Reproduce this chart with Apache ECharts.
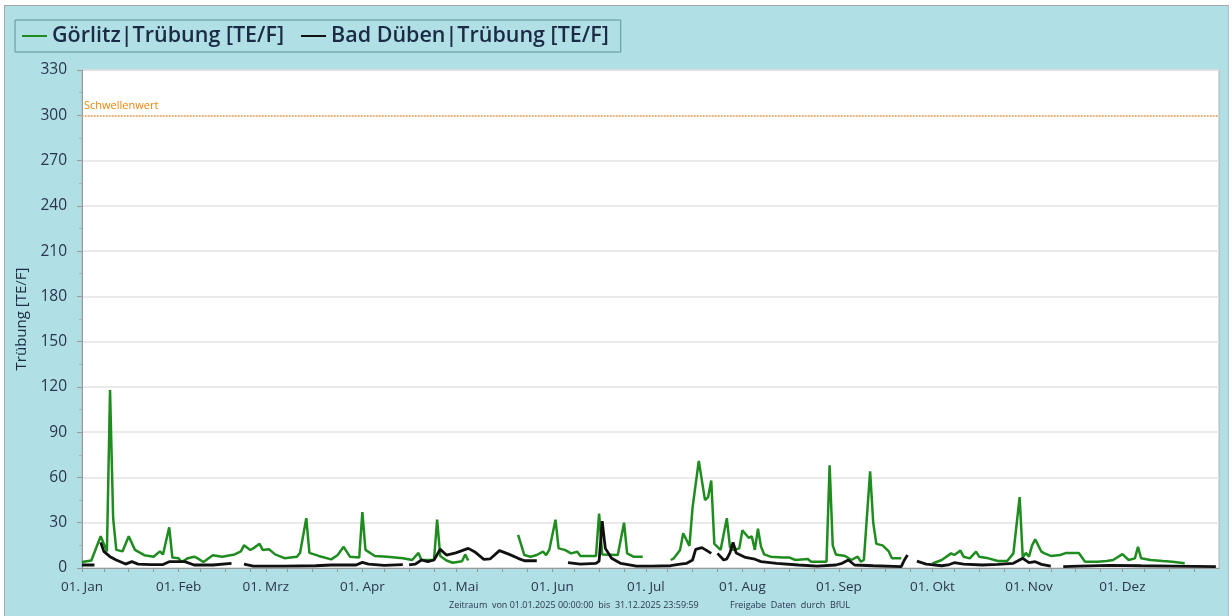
<!DOCTYPE html>
<html><head><meta charset="utf-8">
<script src="https://cdn.jsdelivr.net/npm/echarts@6/dist/echarts.min.js"></script>
<style>
html,body{margin:0;padding:0;background:#fff;}
#frame{position:absolute;left:4px;top:5px;width:1225px;height:611px;background:#b0dfe5;border-top:1px solid #a3a9ab;border-left:1px solid #a3a9ab;border-right:1px solid #a8c4c8;box-sizing:border-box;}
#chart{position:absolute;left:0;top:0;width:1232px;height:616px;}
</style></head><body>
<div id="frame"></div><div id="chart"></div>
<script>
// ---- data ----
const seriesNames = ['Görlitz|Trübung [TE/F]', 'Bad Düben|Trübung [TE/F]'];
const goerlitz = [
 ['2025-01-01',4],['2025-01-04',5],['2025-01-07',21],['2025-01-09',11],['2025-01-10',118],['2025-01-11',33],['2025-01-12',12],
 ['2025-01-14',11],['2025-01-16',21],['2025-01-18',12],['2025-01-21',8.5],['2025-01-24',7.5],['2025-01-26',11],['2025-01-27',9],
 ['2025-01-29',27],['2025-01-30',7],['2025-02-01',6.5],['2025-02-02',4],['2025-02-04',6.5],['2025-02-06',7.5],['2025-02-07',6.5],
 ['2025-02-09',4],['2025-02-10',5.5],['2025-02-12',8.5],['2025-02-15',7.5],['2025-02-19',9],['2025-02-21',11],['2025-02-22',15],
 ['2025-02-24',12],['2025-02-25',13],['2025-02-27',16],['2025-02-28',12],['2025-03-02',12.5],['2025-03-04',9],['2025-03-07',6.5],
 ['2025-03-11',7.5],['2025-03-12',10],['2025-03-14',33],['2025-03-15',10],['2025-03-18',8],['2025-03-22',5.7],['2025-03-24',8.5],
 ['2025-03-26',14],['2025-03-28',7.5],['2025-03-31',7],['2025-04-01',37],['2025-04-02',12],['2025-04-05',8],['2025-04-09',7.5],
 ['2025-04-14',6.5],['2025-04-17',5.3],['2025-04-19',10],['2025-04-20',5.3],['2025-04-24',5.3],['2025-04-25',32],['2025-04-26',8],
 ['2025-04-28',5],['2025-04-30',3.5],['2025-05-03',4.5],['2025-05-04',9],['2025-05-05',5],['2025-05-10',null],
 ['2025-05-21',22],['2025-05-23',8.6],['2025-05-25',7.5],['2025-05-27',8.6],['2025-05-29',10.8],['2025-05-30',8.6],['2025-05-31',12],
 ['2025-06-02',32],['2025-06-03',13],['2025-06-05',12],['2025-06-07',9.7],['2025-06-09',10.8],['2025-06-10',8],['2025-06-15',8],
 ['2025-06-16',36],['2025-06-17',9],['2025-06-22',8.6],['2025-06-24',30],['2025-06-25',9.7],['2025-06-27',7.5],['2025-06-30',7.5],
 ['2025-07-04',null],
 ['2025-07-09',5.3],['2025-07-10',6.4],['2025-07-12',12],['2025-07-13',23],['2025-07-15',14.6],['2025-07-16',40],['2025-07-18',71],
 ['2025-07-20',45],['2025-07-21',47],['2025-07-22',58],['2025-07-23',16],['2025-07-25',12],['2025-07-27',33],['2025-07-28',14],
 ['2025-07-29',12],['2025-07-31',13],['2025-08-01',25],['2025-08-03',20],['2025-08-04',21],['2025-08-05',12],['2025-08-06',26],
 ['2025-08-07',14],['2025-08-08',9],['2025-08-10',7.5],['2025-08-14',7],['2025-08-16',7],['2025-08-18',5.3],['2025-08-22',6],
 ['2025-08-23',4.2],['2025-08-28',4.2],['2025-08-29',68],['2025-08-30',15],['2025-08-31',9],['2025-09-01',8.6],['2025-09-03',8],
 ['2025-09-05',5.3],['2025-09-07',7.5],['2025-09-08',4.2],['2025-09-09',5.3],['2025-09-11',64],['2025-09-12',30],['2025-09-13',16],
 ['2025-09-15',15],['2025-09-17',11],['2025-09-18',6.4],['2025-09-21',6.4],['2025-09-26',null],
 ['2025-10-01',3],['2025-10-04',5.3],['2025-10-07',9.7],['2025-10-08',8.6],['2025-10-10',11.5],['2025-10-11',7.5],['2025-10-13',6.4],
 ['2025-10-15',10.8],['2025-10-16',7.5],['2025-10-19',6.4],['2025-10-22',4.6],['2025-10-25',4.6],['2025-10-27',9.7],['2025-10-29',47],
 ['2025-10-30',7],['2025-10-31',10],['2025-11-01',7.5],['2025-11-02',15],['2025-11-03',19],['2025-11-05',10.8],['2025-11-06',9.7],
 ['2025-11-08',8],['2025-11-11',8.6],['2025-11-13',10],['2025-11-17',10],['2025-11-19',4.2],['2025-11-23',4.2],['2025-11-26',4.6],
 ['2025-11-28',5.3],['2025-12-01',9.2],['2025-12-03',5.3],['2025-12-05',6.4],['2025-12-06',14],['2025-12-07',6.4],['2025-12-10',5.3],
 ['2025-12-14',4.6],['2025-12-17',4.2],['2025-12-21',3.1]
];
const badDueben = [
 ['2025-01-01',2],['2025-01-05',2],['2025-01-06',null],
 ['2025-01-07',17],['2025-01-08',11],['2025-01-10',7.5],['2025-01-12',5.3],['2025-01-15',2.6],['2025-01-17',4.2],['2025-01-19',2.6],
 ['2025-01-23',2.3],['2025-01-27',2.3],['2025-01-29',4.2],['2025-02-03',4.2],['2025-02-06',2],['2025-02-12',2],['2025-02-18',3],
 ['2025-02-20',null],
 ['2025-02-22',2.6],['2025-02-25',1.3],['2025-03-07',1.3],['2025-03-17',1.5],['2025-03-22',2],['2025-03-30',2],['2025-04-01',3.7],
 ['2025-04-03',2.6],['2025-04-08',1.8],['2025-04-14',2.2],['2025-04-15',null],
 ['2025-04-16',2],['2025-04-18',2.6],['2025-04-20',5.3],['2025-04-22',4.2],['2025-04-24',5.3],['2025-04-26',12.4],['2025-04-28',8.6],
 ['2025-05-01',10],['2025-05-05',13],['2025-05-07',10.8],['2025-05-10',5.7],['2025-05-12',6],['2025-05-15',11.5],['2025-05-18',9.2],
 ['2025-05-21',6.4],['2025-05-23',4.8],['2025-05-27',4.8],['2025-06-01',null],
 ['2025-06-06',3.5],['2025-06-10',2.6],['2025-06-15',3],['2025-06-16',4.5],['2025-06-17',31],['2025-06-18',13],['2025-06-20',6.4],
 ['2025-06-23',3],['2025-06-28',1.3],['2025-07-03',1.3],['2025-07-09',1.5],['2025-07-12',2.5],['2025-07-14',3],['2025-07-16',5.3],
 ['2025-07-17',12.4],['2025-07-19',13.5],['2025-07-21',11],['2025-07-22',9.7],['2025-07-23',null],
 ['2025-07-24',9.7],['2025-07-26',5.3],['2025-07-27',6],['2025-07-28',10],['2025-07-29',17],['2025-07-30',10],['2025-08-02',7],
 ['2025-08-05',5.8],['2025-08-07',4.2],['2025-08-12',3],['2025-08-19',2],['2025-08-25',1.3],['2025-08-31',2],['2025-09-02',3.1],
 ['2025-09-04',5.3],['2025-09-06',2],['2025-09-12',1.5],['2025-09-21',0.9],['2025-09-22',5.3],['2025-09-23',8.6],['2025-09-24',null],
 ['2025-09-26',4.6],['2025-09-29',2.6],['2025-10-04',1.5],['2025-10-06',2],['2025-10-08',3.5],['2025-10-11',2.6],['2025-10-17',2],
 ['2025-10-22',2.4],['2025-10-27',3.1],['2025-10-30',6.4],['2025-11-01',3.5],['2025-11-03',4.2],['2025-11-05',2.4],['2025-11-08',1.3],
 ['2025-11-10',null],
 ['2025-11-12',0.9],['2025-11-17',1.3],['2025-11-27',1.8],['2025-12-07',1.5],['2025-12-17',1.3],['2025-12-31',0.9]
];
const monthTicks = ['2025-01-01','2025-02-01','2025-03-01','2025-04-01','2025-05-01','2025-06-01','2025-07-01','2025-08-01','2025-09-01','2025-10-01','2025-11-01','2025-12-01'];
const monthLabels = ['01. Jan','01. Feb','01. Mrz','01. Apr','01. Mai','01. Jun','01. Jul','01. Aug','01. Sep','01. Okt','01. Nov','01. Dez'];
const minorTickDays = [8, 16, 24];
const xRange = ['2025-01-01', '2026-01-01'];
const yMin = 0, yMax = 330, yStep = 30;
const thresholdValue = 300;
const thresholdLabel = 'Schwellenwert';
const yAxisTitle = 'Trübung [TE/F]';
const footerLeft = 'Zeitraum  von 01.01.2025 00:00:00  bis  31.12.2025 23:59:59';
const footerRight = 'Freigabe  Daten  durch  BfUL';

// ---- chart ----
function ts(s){ const p = s.split('-').map(Number); return Date.UTC(p[0], p[1]-1, p[2]); }
const toPts = arr => arr.map(d => [ts(d[0]), d[1] === null ? '-' : d[1]]);
const monthTs = monthTicks.map(ts);
const labelMap = {}; monthTs.forEach((t,i)=>labelMap[t]=monthLabels[i]);
const tickTs = [];
monthTicks.forEach(m => { tickTs.push(ts(m)); const p = m.split('-');
  minorTickDays.forEach(d => tickTs.push(ts(p[0] + '-' + p[1] + '-' + d))); });

const font = 'Open Sans, "DejaVu Sans", sans-serif';
const chart = echarts.init(document.getElementById('chart'), null, {renderer:'canvas'});
chart.setOption({
  animation: false,
  backgroundColor: 'transparent',
  color: ['#1f8c1f', '#111111'],
  legend: {
    left: 15, top: 20,
    padding: [4, 12, 4, 7],
    itemGap: 17,
    itemWidth: 25, itemHeight: 2,
    icon: 'rect',
    borderColor: '#5f9298', borderWidth: 1,
    textStyle: { fontFamily: font, fontSize: 21.5, fontWeight: 600, color: '#1b2a45', lineHeight: 24 },
    data: seriesNames
  },
  grid: { left: 82, right: 13, top: 70, bottom: 48, show: true, backgroundColor: '#ffffff', borderColor: '#b5b5b5', borderWidth: 1 },
  xAxis: {
    type: 'value', min: ts(xRange[0]), max: ts(xRange[1]),
    axisLine: { show: true, lineStyle: { color: '#9a9a9a' } },
    axisTick: { show: true, customValues: tickTs, length: 4, lineStyle: { color: '#9a9a9a' } },
    axisLabel: { customValues: monthTs, formatter: v => labelMap[v] || '', fontFamily: font, fontSize: 13.5, color: '#2a3550', margin: 12, hideOverlap: false },
    splitLine: { show: false }
  },
  yAxis: {
    type: 'value', min: yMin, max: yMax, interval: yStep,
    name: yAxisTitle, nameLocation: 'middle', nameGap: 50,
    nameTextStyle: { fontFamily: font, fontSize: 15, color: '#1b2a45' },
    axisLine: { show: true, lineStyle: { color: '#9a9a9a' } },
    axisTick: { show: true, length: 5, lineStyle: { color: '#9a9a9a' } },
    minorTick: { show: true, splitNumber: 2, length: 3, lineStyle: { color: '#b0b0b0' } },
    axisLabel: { fontFamily: font, fontSize: 15.5, color: '#2a3550', margin: 15 },
    splitLine: { show: true, lineStyle: { color: '#e3e3e3', width: 1.5 } }
  },
  series: [
    { name: seriesNames[0], type: 'line', data: toPts(goerlitz), showSymbol: false, symbol: 'none', connectNulls: false,
      lineStyle: { width: 2.5, color: '#1f8c1f' },
      markLine: { silent: true, symbol: 'none',
        lineStyle: { color: '#f0a040', type: 'dotted', width: 1.5 },
        label: { show: true, formatter: thresholdLabel, position: 'insideStartTop', color: '#f0850a', fontFamily: font, fontSize: 11, distance: [2, 4] },
        data: [{ yAxis: thresholdValue }] } },
    { name: seriesNames[1], type: 'line', data: toPts(badDueben), showSymbol: false, symbol: 'none', connectNulls: false,
      lineStyle: { width: 2.8, color: '#111111' } }
  ],
  graphic: [
    { type: 'text', left: 449, top: 601, style: { text: footerLeft, font: '9px ' + font, fill: '#2a3550' } },
    { type: 'text', left: 730, top: 601, style: { text: footerRight, font: '9px ' + font, fill: '#2a3550' } }
  ]
});
</script>
</body></html>
